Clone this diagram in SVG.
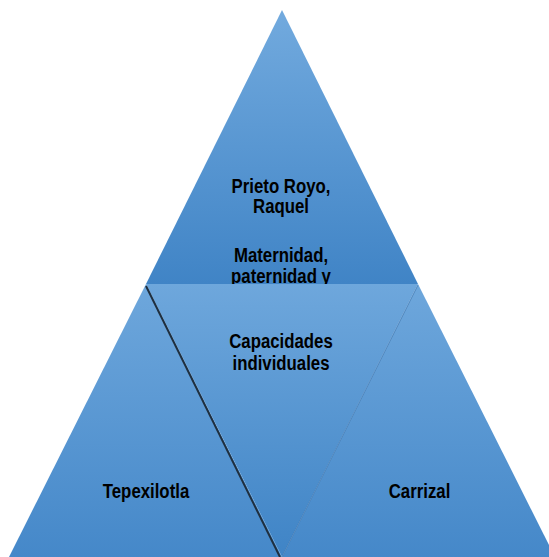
<svg xmlns="http://www.w3.org/2000/svg" width="549" height="557" viewBox="0 0 549 557">
<defs>
<linearGradient id="gTop" x1="0" y1="10" x2="0" y2="284" gradientUnits="userSpaceOnUse">
<stop offset="0" stop-color="#72aade"/><stop offset="1" stop-color="#4084c6"/>
</linearGradient>
<linearGradient id="gMid" x1="0" y1="284" x2="0" y2="557" gradientUnits="userSpaceOnUse">
<stop offset="0" stop-color="#6ea7dc"/><stop offset="1" stop-color="#3f84c6"/>
</linearGradient>
<linearGradient id="gBot" x1="0" y1="284" x2="0" y2="557" gradientUnits="userSpaceOnUse">
<stop offset="0" stop-color="#6ea7dc"/><stop offset="1" stop-color="#4588c9"/>
</linearGradient>
<style>
.t{font-family:"Liberation Sans",Arial,sans-serif;font-size:21px;font-weight:bold;fill:#000;text-anchor:middle}
</style>
</defs>
<rect width="549" height="557" fill="#fff"/>
<g id="top">
<polygon points="282,10 418,284 146,284" fill="url(#gTop)"/>
<text class="t" transform="translate(281,192.5) scale(0.8,1)">Prieto Royo,</text>
<text class="t" transform="translate(281,212.5) scale(0.8,1)">Raquel</text>
<text class="t" transform="translate(281,262) scale(0.8,1)">Maternidad,</text>
<text class="t" transform="translate(281,283) scale(0.8,1)">paternidad y</text>
</g>
<g id="left">
<polygon points="146,284 282,557 9,557" fill="url(#gBot)"/>
<text class="t" transform="translate(146,497.5) scale(0.8,1)">Tepexilotla</text>
</g>
<g id="right">
<polygon points="418,284 555,557 282,557" fill="url(#gBot)"/>
<text class="t" transform="translate(419.5,497.5) scale(0.8,1)">Carrizal</text>
</g>
<g id="middle">
<polygon points="146,284 418,284 282,557" fill="url(#gMid)"/>
<text class="t" transform="translate(281,348) scale(0.8,1)">Capacidades</text>
<text class="t" transform="translate(281,370) scale(0.8,1)">individuales</text>
</g>
<g id="connectors">
<line x1="146" y1="286" x2="280" y2="557" stroke="#1f2f3f" stroke-width="2"/>
<line x1="418" y1="285" x2="282" y2="557" stroke="#3a70a8" stroke-width="0.6"/>
</g>
</svg>
